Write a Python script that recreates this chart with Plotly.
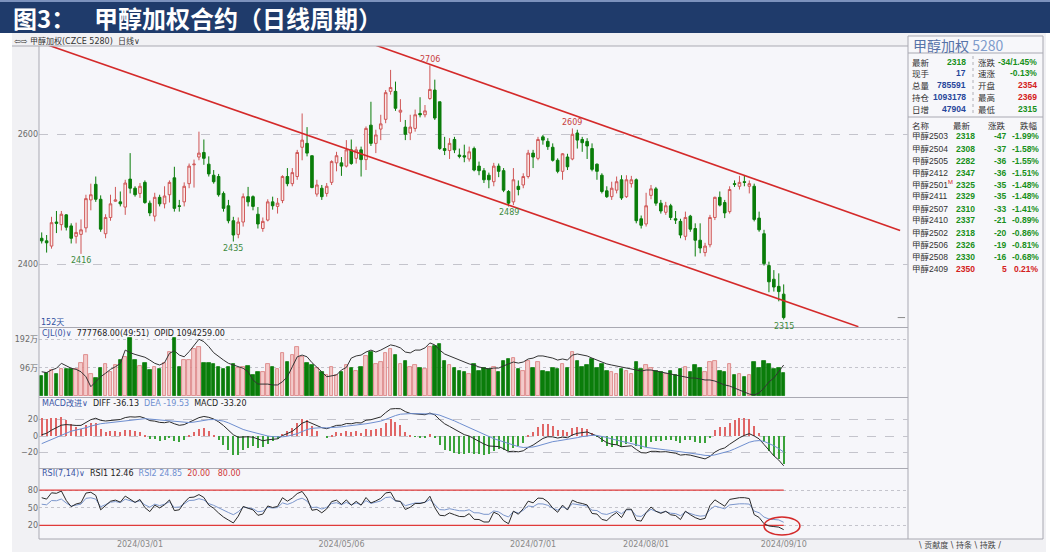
import plotly.graph_objects as go

W, H = 1050, 552

# ---------------- data ----------------
tick_idx = [20, 61, 100, 123, 151]
tick_text = ["2024/03/01", "2024/05/06", "2024/07/01", "2024/08/01", "2024/09/10"]

opens = [2440, 2436, 2428, 2465, 2461, 2476, 2459, 2443, 2446, 2456,
         2499, 2523, 2500, 2447, 2472, 2497, 2496, 2488, 2531, 2517,
         2509, 2526, 2494, 2474, 2503, 2493, 2507, 2533, 2490, 2496,
         2524, 2553, 2565, 2572, 2554, 2537, 2535, 2509, 2490, 2467,
         2446, 2465, 2504, 2504, 2477, 2455, 2468, 2496, 2489, 2498,
         2535, 2524, 2535, 2580, 2586, 2567, 2508, 2517, 2509, 2526,
         2556, 2556, 2551, 2576, 2563, 2576, 2561, 2614, 2586, 2608,
         2623, 2666, 2666, 2634, 2611, 2602, 2609, 2632, 2630, 2655,
         2668, 2650, 2578, 2575, 2592, 2568, 2567, 2562, 2578, 2551,
         2544, 2537, 2527, 2551, 2544, 2512, 2496, 2520, 2522, 2535,
         2571, 2563, 2596, 2589, 2580, 2560, 2543, 2565, 2562, 2602,
         2592, 2589, 2578, 2554, 2537, 2513, 2504, 2514, 2530, 2504,
         2524, 2530, 2470, 2462, 2506, 2516, 2494, 2480, 2490, 2470,
         2466, 2443, 2474, 2455, 2437, 2418, 2430, 2472, 2503, 2495,
         2481, 2524, 2520, 2527, 2520, 2520, 2471, 2447, 2398, 2377,
         2366, 2354]
highs = [2449, 2445, 2473, 2482, 2482, 2477, 2463, 2464, 2469, 2507,
         2524, 2535, 2506, 2477, 2507, 2519, 2512, 2530, 2571, 2520,
         2525, 2529, 2498, 2510, 2507, 2520, 2529, 2550, 2499, 2526,
         2555, 2561, 2604, 2592, 2566, 2545, 2539, 2512, 2499, 2473,
         2472, 2509, 2519, 2506, 2488, 2472, 2500, 2504, 2502, 2537,
         2548, 2548, 2576, 2632, 2611, 2567, 2530, 2522, 2525, 2560,
         2573, 2565, 2591, 2592, 2581, 2581, 2612, 2650, 2607, 2630,
         2668, 2699, 2681, 2654, 2622, 2630, 2638, 2657, 2645, 2706,
         2684, 2650, 2596, 2594, 2596, 2578, 2584, 2581, 2581, 2558,
         2548, 2541, 2556, 2555, 2548, 2514, 2548, 2529, 2540, 2576,
         2576, 2596, 2599, 2594, 2586, 2563, 2571, 2570, 2609, 2607,
         2596, 2594, 2586, 2555, 2540, 2520, 2527, 2535, 2537, 2537,
         2536, 2532, 2475, 2510, 2522, 2519, 2499, 2496, 2493, 2482,
         2470, 2481, 2476, 2463, 2463, 2433, 2476, 2504, 2512, 2499,
         2520, 2529, 2536, 2537, 2529, 2524, 2481, 2453, 2404, 2391,
         2386, 2369]
lows = [2432, 2418, 2424, 2448, 2452, 2452, 2432, 2432, 2416, 2449,
        2483, 2496, 2450, 2440, 2467, 2496, 2489, 2476, 2509, 2504,
        2502, 2493, 2474, 2466, 2489, 2486, 2495, 2481, 2481, 2489,
        2517, 2518, 2560, 2553, 2535, 2524, 2504, 2481, 2463, 2435,
        2440, 2458, 2489, 2483, 2455, 2450, 2466, 2484, 2478, 2494,
        2520, 2520, 2530, 2560, 2566, 2517, 2504, 2499, 2504, 2522,
        2543, 2536, 2549, 2553, 2555, 2535, 2545, 2582, 2571, 2591,
        2617, 2661, 2636, 2619, 2591, 2591, 2604, 2626, 2626, 2653,
        2622, 2576, 2568, 2562, 2571, 2563, 2557, 2558, 2543, 2537,
        2525, 2517, 2520, 2534, 2511, 2489, 2491, 2506, 2517, 2532,
        2548, 2560, 2584, 2576, 2558, 2540, 2530, 2545, 2560, 2578,
        2573, 2562, 2543, 2530, 2509, 2502, 2499, 2509, 2499, 2502,
        2518, 2463, 2455, 2458, 2500, 2490, 2478, 2476, 2468, 2462,
        2440, 2437, 2450, 2412, 2417, 2412, 2426, 2468, 2489, 2471,
        2478, 2519, 2515, 2520, 2509, 2466, 2450, 2398, 2357, 2358,
        2343, 2315]
closes = [2436, 2433, 2464, 2463, 2477, 2457, 2440, 2449, 2453, 2501,
          2507, 2500, 2454, 2472, 2493, 2499, 2493, 2525, 2517, 2507,
          2520, 2495, 2479, 2503, 2493, 2505, 2526, 2486, 2489, 2520,
          2551, 2554, 2571, 2563, 2539, 2527, 2507, 2486, 2467, 2445,
          2465, 2504, 2496, 2489, 2462, 2466, 2496, 2490, 2494, 2535,
          2524, 2541, 2572, 2591, 2571, 2518, 2522, 2504, 2520, 2558,
          2567, 2551, 2576, 2555, 2576, 2561, 2609, 2586, 2599, 2616,
          2664, 2672, 2640, 2637, 2600, 2611, 2630, 2630, 2636, 2669,
          2625, 2578, 2575, 2586, 2576, 2566, 2565, 2573, 2545, 2544,
          2530, 2530, 2551, 2543, 2514, 2494, 2530, 2515, 2535, 2571,
          2565, 2592, 2591, 2581, 2560, 2543, 2570, 2550, 2600, 2591,
          2587, 2582, 2546, 2543, 2512, 2504, 2517, 2527, 2502, 2530,
          2530, 2467, 2460, 2490, 2516, 2494, 2482, 2490, 2472, 2468,
          2445, 2472, 2454, 2437, 2425, 2428, 2472, 2503, 2491, 2479,
          2515, 2523, 2526, 2526, 2524, 2469, 2453, 2401, 2373, 2365,
          2358, 2318]
# volume, in 万 (10k lots)
volume_wan = [67.8, 76.8, 88.1, 73.4, 90.4, 90.4, 90.4, 90.4, 113, 138.9,
              74.5, 59.9, 96, 108.4, 81.3, 105, 122, 133.3, 195.4, 122,
              101.6, 110.7, 88.1, 99.4, 91.5, 110.7, 150.2, 195.4, 97.1, 122,
              122, 158.1, 164.9, 113, 110.7, 107.3, 99.4, 90.4, 99.4, 108.4,
              93.7, 97.1, 101.6, 71.2, 82.4, 82.4, 108.4, 99.4, 90.4, 144.6,
              116.3, 138.9, 164.9, 131, 110.7, 105, 93.7, 82.4, 71.2, 97.1,
              71.2, 80, 105, 95, 85, 100, 135, 150, 110, 115,
              145, 160, 140, 110, 120, 100, 105, 95, 90, 165,
              170, 175, 120, 105, 95, 85, 80, 75, 110, 85,
              95, 90, 100, 80, 120, 125, 130, 90, 85, 120,
              95, 115, 85, 80, 95, 90, 110, 95, 150, 120,
              100, 105, 125, 95, 110, 85, 80, 75, 90, 85,
              75, 115, 90, 105, 95, 85, 80, 75, 85, 70,
              90, 100, 80, 105, 95, 80, 115, 120, 85, 80,
              110, 70, 75, 65, 70, 115, 95, 120, 110, 90,
              95, 78.6]
# open interest, in 万
open_interest_wan = [106.2, 105.8, 107.0, 107.8, 110.1, 108.9, 107.8, 107.3, 106.2, 103.9,
                     99.3, 101.6, 103.9, 105.5, 107.3, 108.5, 110.1, 116.2, 115.0, 114.2,
                     113.5, 112.9, 111.6, 110.1, 109.3, 110.4, 114.7, 115.9, 113.9, 113.1,
                     115.5, 118.6, 121.2, 120.1, 117.8, 115.0, 113.1, 111.6, 110.1, 109.3,
                     108.5, 107.8, 106.2, 102.4, 100.5, 100.5, 100.5, 100.1, 100.1, 101.6,
                     103.9, 108.5, 113.1, 113.9, 113.1, 110.4, 108.5, 106.2, 103.9, 104.2,
                     104.7, 107.0, 108.2, 112.5, 113.5, 113.9, 115.3, 116.2, 115.3, 116.2,
                     117.6, 118.6, 118.1, 117.2, 115.3, 114.9, 116.2, 116.2, 117.2, 119.5,
                     118.6, 116.2, 114.4, 113.5, 112.5, 111.6, 110.7, 109.8, 109.3, 108.4,
                     107.9, 107.5, 107.9, 107.9, 108.9, 109.8, 110.7, 110.2, 110.7, 112.1,
                     112.5, 113.5, 113.5, 113.0, 112.5, 111.6, 112.1, 111.6, 113.9, 114.4,
                     113.9, 113.5, 112.5, 111.6, 110.7, 109.8, 109.3, 108.9, 108.4, 107.9,
                     107.5, 107.0, 106.5, 107.0, 107.0, 106.5, 106.1, 105.6, 105.2, 104.7,
                     104.2, 103.8, 103.3, 103.3, 102.9, 102.4, 102.4, 101.9, 101.0, 100.1,
                     99.6, 98.7, 97.8, 96.8, 95.9, 95.5, 96.4, 98.7, 101.5, 103.3,
                     106.1, 109.3]

# indicator seeds (state carried in from before the visible window)
EMA12_SEED, EMA26_SEED, DEA_SEED = 2405.0, 2406.0, -12.0
PREV_CLOSE = 2440.0
RSI7_SEED = (10.5, 15.0)
RSI14_SEED = (8.0, 14.0)

# drawn channel lines (bar index, price)
channel_lower_k = [0, 166.2]
channel_lower_p = [2740.6, 2304.0]
channel_upper_k = [66.1, 174.7]
channel_upper_p = [2742.0, 2452.0]

low_marks = [8, 39, 95, 151]
high_marks = [79, 108]

quote_left_labels = ["最新", "现手", "总量", "持仓", "日增"]
quote_left_values = ["2318", "17", "785591", "1093178", "47904"]
quote_right_labels = ["涨跌", "速涨", "开盘", "最高", "最低"]
quote_right_values = ["-34/1.45%", "-0.13%", "2354", "2369", "2315"]

contracts = ["甲醇2503", "甲醇2504", "甲醇2505", "甲醇2412", "甲醇2501", "甲醇2411",
             "甲醇2507", "甲醇2410", "甲醇2502", "甲醇2506", "甲醇2508", "甲醇2409"]
contract_last = [2318, 2308, 2282, 2347, 2325, 2329, 2310, 2337, 2318, 2326, 2330, 2350]
contract_chg = [-47, -37, -36, -36, -35, -35, -33, -21, -20, -19, -16, 5]
contract_pct = ["-1.99%", "-1.58%", "-1.55%", "-1.51%", "-1.48%", "-1.48%",
                "-1.41%", "-0.89%", "-0.86%", "-0.81%", "-0.68%", "0.21%"]

# ---------------- indicators ----------------
n = len(closes)
xs = list(range(n))


def ema(vals, period, seed):
    out, e = [], seed
    for v in vals:
        e = e + (v - e) * 2.0 / (period + 1)
        out.append(e)
    return out


ema12 = ema(closes, 12, EMA12_SEED)
ema26 = ema(closes, 26, EMA26_SEED)
diff = [a - b for a, b in zip(ema12, ema26)]
dea = ema(diff, 9, DEA_SEED)
macd = [2 * (d - e) for d, e in zip(diff, dea)]


def rsi(vals, period, prev, seed):
    up, ab = seed
    out = []
    for c in vals:
        d = c - prev
        up = (max(d, 0) + (period - 1) * up) / period
        ab = (abs(d) + (period - 1) * ab) / period
        out.append(100 * up / ab if ab else 50)
        prev = c
    return out


rsi1 = rsi(closes, 7, PREV_CLOSE, RSI7_SEED)
rsi2 = rsi(closes, 14, PREV_CLOSE, RSI14_SEED)

# ---------------- colours ----------------
RED_LINE = "#cf5656"
RED_FILL = "#fbe9e9"
GREEN = "#0a7d0a"
GRID = "#c4c4cc"
FRAME = "#a9a9b2"
CJK = "Noto Sans CJK SC"
NUM = "DejaVu Sans, Noto Sans CJK SC"
NARROW = "Liberation Sans, Noto Sans CJK SC"

fig = go.Figure()

# candles
fig.add_trace(go.Candlestick(
    x=xs, open=opens, high=highs, low=lows, close=closes,
    increasing=dict(line=dict(color=RED_LINE, width=1), fillcolor=RED_FILL),
    decreasing=dict(line=dict(color=GREEN, width=1), fillcolor=GREEN),
    whiskerwidth=0, xaxis="x", yaxis="y", showlegend=False, hoverinfo="skip"))

# channel lines
fig.add_trace(go.Scatter(x=channel_lower_k, y=channel_lower_p, mode="lines",
                         line=dict(color="#d42a2a", width=1.6), xaxis="x", yaxis="y",
                         showlegend=False, hoverinfo="skip"))
fig.add_trace(go.Scatter(x=channel_upper_k, y=channel_upper_p, mode="lines",
                         line=dict(color="#d42a2a", width=1.6), xaxis="x", yaxis="y",
                         showlegend=False, hoverinfo="skip"))
# last price marker
fig.add_trace(go.Scatter(x=[174.2, 175.7], y=[closes[-1], closes[-1]], mode="lines",
                         line=dict(color="#8a8a8a", width=1), xaxis="x", yaxis="y",
                         showlegend=False, hoverinfo="skip"))

# volume
up_flags = [c >= o for o, c in zip(opens, closes)]
fig.add_trace(go.Bar(
    x=xs, y=volume_wan, width=0.72,
    marker=dict(color=[("#f4caca" if u else GREEN) for u in up_flags],
                line=dict(color=[("#d97878" if u else GREEN) for u in up_flags], width=0.8)),
    xaxis="x", yaxis="y2", showlegend=False, hoverinfo="skip"))
fig.add_trace(go.Scatter(x=xs, y=open_interest_wan, mode="lines",
                         line=dict(color="#333333", width=1), xaxis="x", yaxis="y5",
                         showlegend=False, hoverinfo="skip"))

# MACD
fig.add_trace(go.Bar(
    x=xs, y=macd, width=0.22,
    marker=dict(color=[("#e06666" if m >= 0 else "#3aa33a") for m in macd], line=dict(width=0)),
    xaxis="x", yaxis="y3", showlegend=False, hoverinfo="skip"))
fig.add_trace(go.Scatter(x=xs, y=diff, mode="lines", line=dict(color="#2a2a2a", width=1),
                         xaxis="x", yaxis="y3", showlegend=False, hoverinfo="skip"))
fig.add_trace(go.Scatter(x=xs, y=dea, mode="lines", line=dict(color="#6f8fd0", width=1),
                         xaxis="x", yaxis="y3", showlegend=False, hoverinfo="skip"))

# RSI
for lvl in (80, 20):
    fig.add_trace(go.Scatter(x=[-0.55, xs[-1]], y=[lvl, lvl], mode="lines",
                             line=dict(color="#e03a3a", width=1.2), xaxis="x", yaxis="y4",
                             showlegend=False, hoverinfo="skip"))
fig.add_trace(go.Scatter(x=xs, y=rsi2, mode="lines", line=dict(color="#7b96cc", width=1),
                         xaxis="x", yaxis="y4", showlegend=False, hoverinfo="skip"))
fig.add_trace(go.Scatter(x=xs, y=rsi1, mode="lines", line=dict(color="#2a2a2a", width=1),
                         xaxis="x", yaxis="y4", showlegend=False, hoverinfo="skip"))


def py(y):
    return 1 - y / H


def px(x):
    return x / W


shapes = []
ann = []


def rect(x0, y0, x1, y1, fill, line=None, lw=1):
    shapes.append(dict(type="rect", xref="paper", yref="paper", x0=px(x0), x1=px(x1),
                       y0=py(y1), y1=py(y0), fillcolor=fill,
                       line=dict(color=line or fill, width=lw if line else 0), layer="below"))


def seg(x0, y0, x1, y1, color=FRAME, width=1, dash="solid", layer="above"):
    shapes.append(dict(type="line", xref="paper", yref="paper", x0=px(x0), x1=px(x1),
                       y0=py(y0), y1=py(y1), line=dict(color=color, width=width, dash=dash),
                       layer=layer))


def text(x, y, s, size=8, color="#333333", xanchor="left", family=NUM):
    ann.append(dict(x=px(x), y=py(y), xref="paper", yref="paper", text=s, showarrow=False,
                    xanchor=xanchor, yanchor="middle", borderpad=0,
                    font=dict(size=size, color=color, family=family)))


# backgrounds
rect(12, 33, 1046, 552, "#f1f1f4")
rect(39, 46, 908, 539, "#f6f6fa")
rect(908, 36, 1043, 539, "#f7f7fa", line=FRAME)
rect(0, 0, 1050, 33, "#1f3b6b")
rect(0, 0, 1050, 2, "#7c92bd")

# frame lines
seg(12, 46, 908, 46)
seg(39, 46, 39, 539)
for yy in (327.5, 397.5, 468.5, 539):
    seg(39, yy, 908, yy)
seg(908, 53, 1043, 53)
seg(908, 117, 1043, 117)
seg(973, 56, 973, 115, color="#b0b0b8", dash="dot")

# title
text(12, 17, "<b>图3：</b>", size=24, color="white", family=CJK)
text(93, 17, "<b>甲醇加权合约（日线周期）</b>", size=24, color="white", family=CJK)

# header row
text(13, 41.5, "⇦⇨ 甲醇加权(CZCE 5280)  日线∨", size=8, color="#333333")
text(40, 322, "152天", size=8, color="#3050a0")
text(41, 333, '<span style="color:#3a55a5">CJL(0)∨</span>  777768.00(49:51)  OPID 1094259.00',
     size=8, color="#222222")
text(41, 403, '<span style="color:#3a55a5">MACD改进∨</span>  DIFF -36.13  '
     '<span style="color:#6f8fd0">DEA -19.53</span>  MACD -33.20', size=8, color="#222222")
text(41, 473.5, '<span style="color:#3a55a5">RSI(7,14)∨</span>  RSI1 12.46  '
     '<span style="color:#6f8fd0">RSI2 24.85</span>  '
     '<span style="color:#d03a3a">20.00   80.00</span>', size=8, color="#222222")

# high / low marks
for k in low_marks:
    ann.append(dict(x=k, y=lows[k], xref="x", yref="y", text=str(lows[k]), showarrow=False,
                    yanchor="top", yshift=-1, borderpad=0,
                    font=dict(size=8, color="#3d8a3d", family=NUM)))
for k in high_marks:
    ann.append(dict(x=k, y=highs[k], xref="x", yref="y", text=str(highs[k]), showarrow=False,
                    yanchor="bottom", yshift=0, borderpad=0,
                    font=dict(size=8, color="#c84040", family=NUM)))

# RSI highlight ellipse
shapes.append(dict(type="circle", xref="x", yref="y4", x0=147.0, x1=154.3, y0=3.6, y1=34.2,
                   line=dict(color="#d42a2a", width=1.6), layer="above"))

# right panel
text(912, 45.5, '甲醇加权 <span style="color:#7f9ccc">5280</span>', size=14, color="#5673a8",
     family=CJK)
val_cols_left = ["#17901a", "#26469a", "#26469a", "#26469a", "#26469a"]
val_cols_right = ["#17901a", "#17901a", "#d42020", "#d42020", "#17901a"]
for i in range(5):
    yy = 61.5 + 11.8 * i
    text(911, yy, quote_left_labels[i], size=8.5, color="#333333", family=CJK)
    text(967, yy, "<b>" + quote_left_values[i] + "</b>", size=8.5, color=val_cols_left[i],
         xanchor="right", family=NARROW)
    text(977, yy, quote_right_labels[i], size=8.5, color="#333333", family=CJK)
    text(1038, yy, "<b>" + quote_right_values[i] + "</b>", size=8.5, color=val_cols_right[i],
         xanchor="right", family=NARROW)

text(911, 125, "名称", size=8.5, color="#333333", family=CJK)
text(972, 125, "最新", size=8.5, color="#333333", family=CJK, xanchor="right")
text(1007, 125, "涨跌", size=8.5, color="#333333", family=CJK, xanchor="right")
text(1039, 125, "跌幅", size=8.5, color="#333333", family=CJK, xanchor="right")
for i, name in enumerate(contracts):
    yy = 136.5 + 12.0 * i
    col = "#d42020" if contract_chg[i] > 0 else "#17901a"
    label = name
    if name == "甲醇2501":
        label = name + '<sup><span style="color:#d42020">M</span></sup>'
    text(911, yy, label, size=8.5, color="#333333", family=NARROW)
    text(976, yy, "<b>%d</b>" % contract_last[i], size=8.5, color=col, xanchor="right",
         family=NARROW)
    text(1008, yy, "<b>%d</b>" % contract_chg[i], size=8.5, color=col, xanchor="right",
         family=NARROW)
    text(1040, yy, "<b>" + contract_pct[i] + "</b>", size=8.5, color=col, xanchor="right",
         family=NARROW)

text(918, 544.5, "\\ 贡献度 \\ 持条 \\ 持跌 /", size=8, color="#444444")

axis_font = dict(size=8, color="#6a6a6a", family=NUM)
common_y = dict(anchor="x", showline=False, zeroline=False, ticks="", tickfont=axis_font,
                showgrid=True, gridcolor=GRID, gridwidth=1, fixedrange=True)

fig.update_layout(
    width=W, height=H, margin=dict(l=0, r=0, t=0, b=0),
    paper_bgcolor="white", plot_bgcolor="rgba(0,0,0,0)",
    font=dict(family=NUM), boxgap=0.25, bargap=0, barmode="overlay",
    showlegend=False, hovermode=False,
    xaxis=dict(domain=[px(39), px(908)], range=[-0.55, 176.3], anchor="y4",
               tickvals=tick_idx, ticktext=tick_text, showgrid=False, zeroline=False,
               showline=False, ticks="", tickfont=dict(size=8, color="#888888", family=NUM),
               rangeslider=dict(visible=False)),
    yaxis=dict(domain=[py(327), py(46)], range=[2303.5, 2735.8], tickvals=[2400, 2600],
               griddash="dash", **common_y),
    yaxis2=dict(domain=[py(396), py(328)], range=[0, 230.7], tickvals=[96, 192],
                ticktext=["96万", "192万"], griddash="dot", **common_y),
    yaxis5=dict(overlaying="y2", range=[95, 126.4], visible=False, anchor="x"),
    yaxis3=dict(domain=[py(468), py(398)], range=[-38.8, 46.1], tickvals=[-20, 0, 20],
                griddash="dash", **common_y),
    yaxis4=dict(domain=[py(538), py(469)], range=[-1.5, 115.8], tickvals=[20, 50, 80],
                griddash="dot", **common_y),
    shapes=shapes, annotations=ann,
)

fig.write_html("out.html")
